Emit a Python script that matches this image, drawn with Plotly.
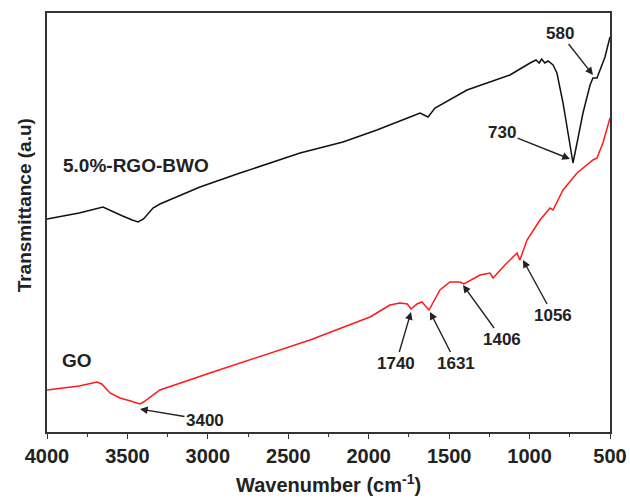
import plotly.graph_objects as go

# Black: 5.0%-RGO-BWO  (wavenumber, transmittance a.u.)
bwo_wn = [4000, 3800, 3652, 3600, 3530, 3470, 3434, 3400, 3341, 3298, 3049, 2800, 2427,
          2160, 1949, 1743, 1681, 1631, 1588, 1389, 1246, 1122, 997, 960, 940, 925,
          905, 885, 854, 830, 792, 749, 730, 705, 668, 624, 606, 581, 562, 531, 500]
bwo_t = [213, 219, 225, 221, 216, 212, 210, 213, 224, 228, 245, 259, 279,
         290, 302, 315, 319, 315, 324, 342, 350, 357, 369, 372, 369, 373,
         369, 371, 367, 359, 329, 289, 269, 289, 319, 347, 354, 354, 362, 375, 395]

# Red: GO
go_wn = [4000, 3800, 3689, 3660, 3608, 3546, 3480, 3422, 3400, 3298, 2987, 2365, 1992,
         1868, 1806, 1760, 1737, 1700, 1669, 1625, 1557, 1495, 1433, 1408, 1308, 1246,
         1227, 1153, 1078, 1060, 1016, 935, 873, 854, 792, 705, 606, 581, 544, 500]
go_t = [42, 46, 50, 48, 39, 34, 31, 28, 30, 42, 59, 92, 115,
        127, 129, 128, 123, 128, 130, 122, 142, 150, 150, 148, 157, 159,
        154, 167, 179, 172, 192, 212, 224, 222, 242, 259, 272, 274, 289, 314]

tick_vals = [4000, 3500, 3000, 2500, 2000, 1500, 1000, 500]
tick_text = ["4000", "3500", "3000", "2500", "2000", "1500", "1000", "500"]

# peak labels: (text, head_wn, head_t, label_wn, label_t)
peak_labels = [
    ("3400", 3422, 23, 3018, 12),
    ("1740", 1737, 120, 1830, 69),
    ("1631", 1619, 120, 1457, 69),
    ("1406", 1414, 147, 1171, 93),
    ("1056", 1041, 172, 854, 117),
    ("730", 749, 273, 1171, 300),
    ("580", 606, 357, 811, 399),
]
series_labels = [("5.0%-RGO-BWO", 3447, 267), ("GO", 3814, 72)]

FONT = "Liberation Sans, Arial, sans-serif"

fig = go.Figure()
fig.add_trace(go.Scatter(x=bwo_wn, y=bwo_t, mode="lines",
                         line=dict(color="#111111", width=1.5), showlegend=False))
fig.add_trace(go.Scatter(x=go_wn, y=go_t, mode="lines",
                         line=dict(color="#ff1a1a", width=1.5), showlegend=False))

anns = []
for txt, hx, hy, lx, ly in peak_labels:
    anns.append(dict(x=hx, y=hy, ax=lx, ay=ly, xref="x", yref="y", axref="x", ayref="y",
                     text="<b>%s</b>" % txt, showarrow=True, arrowhead=2, arrowsize=1.1,
                     arrowwidth=1.4, arrowcolor="#222222",
                     font=dict(family=FONT, size=17, color="#222222")))
for txt, lx, ly in series_labels:
    anns.append(dict(x=lx, y=ly, xref="x", yref="y", text="<b>%s</b>" % txt,
                     showarrow=False, font=dict(family=FONT, size=19, color="#222222")))
anns.append(dict(x=-0.062, y=0.54, xref="paper", yref="paper", textangle=-90,
                 text="<b>Transmittance (a.u)</b>", showarrow=False,
                 font=dict(family=FONT, size=19, color="#222222")))
anns.append(dict(x=0.5, y=-0.158, xref="paper", yref="paper", yanchor="bottom",
                 text="<b>Wavenumber (cm<sup>-1</sup>)</b>", showarrow=False,
                 font=dict(family=FONT, size=20, color="#222222")))

fig.update_layout(
    width=630, height=500,
    margin=dict(l=47, r=20, t=13, b=68, autoexpand=False),
    paper_bgcolor="white", plot_bgcolor="white",
    annotations=anns,
    xaxis=dict(range=[4000, 500], tickvals=tick_vals, ticktext=tick_text, automargin=False,
               ticks="outside", ticklen=5, tickwidth=1.3, tickcolor="#333333",
               minor=dict(dtick=250, ticks="outside", ticklen=3, tickwidth=1.2, tickcolor="#333333"),
               showline=True, linecolor="#333333", linewidth=1.5, mirror=True,
               showgrid=False, zeroline=False,
               tickfont=dict(family=FONT, size=20, color="#222222", weight="bold")),
    yaxis=dict(range=[0, 419], showticklabels=False, ticks="", automargin=False,
               showline=True, linecolor="#333333", linewidth=1.5, mirror=True,
               showgrid=False, zeroline=False),
)

fig.write_html("out.html")
